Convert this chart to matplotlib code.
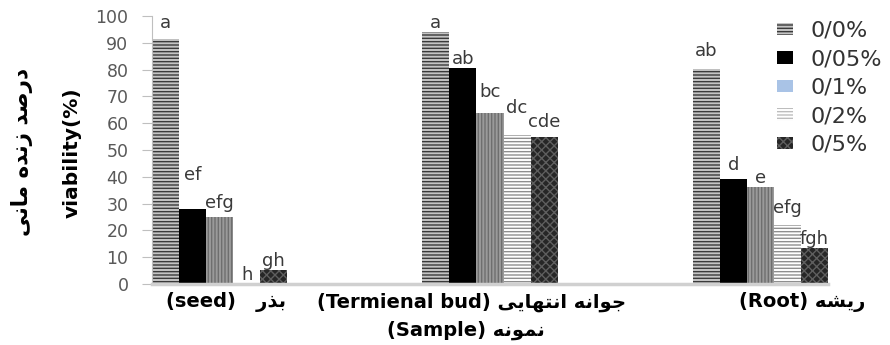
import matplotlib
matplotlib.use("Agg")
import matplotlib.pyplot as plt
import matplotlib.transforms as mtransforms
import numpy as np

# sample groups (english + persian)
samples = ["(seed)", "(Termienal bud)", "(Root)"]
samples_fa = ["بذر", "جوانه انتهایی", "ریشه"]
concentrations = ["0/0%", "0/05%", "0/1%", "0/2%", "0/5%"]

# viability (%) per concentration, order: seed, terminal bud, root
viab_0 = [91.5, 94.2, 80.1]
viab_005 = [28.0, 80.5, 39.2]
viab_01 = [25.0, 63.7, 36.1]
viab_02 = [0.0, 55.6, 22.0]
viab_05 = [5.2, 54.7, 13.5]

# hidden standard errors (labels sit above them)
se_0 = [2.5, 0.0, 3.3]
se_005 = [9.3, 0.0, 1.8]
se_01 = [1.9, 4.7, 0.0]
se_02 = [0.0, 6.6, 3.0]
se_05 = [0.0, 2.5, 0.0]

# duncan letters
let_0 = ["a", "a", "ab"]
let_005 = ["ef", "ab", "d"]
let_01 = ["efg", "bc", "e"]
let_02 = ["h", "dc", "efg"]
let_05 = ["gh", "cde", "fgh"]

y_fa = "درصد زنده مانی"
y_en = "viability(%)"
x_fa = "نمونه"
x_en = "(Sample)"

# minimal persian shaping (matplotlib does no joining / bidi)
FORMS = {
    'ب': (0xFE8F, 0xFE90, 0xFE91, 0xFE92),
    'ت': (0xFE95, 0xFE96, 0xFE97, 0xFE98),
    'ج': (0xFE9D, 0xFE9E, 0xFE9F, 0xFEA0),
    'ش': (0xFEB5, 0xFEB6, 0xFEB7, 0xFEB8),
    'ص': (0xFEB9, 0xFEBA, 0xFEBB, 0xFEBC),
    'م': (0xFEE1, 0xFEE2, 0xFEE3, 0xFEE4),
    'ن': (0xFEE5, 0xFEE6, 0xFEE7, 0xFEE8),
    'ه': (0xFEE9, 0xFEEA, 0xFEEB, 0xFEEC),
    'ی': (0xFBFC, 0xFBFD, 0xFBFE, 0xFBFF),
    'ا': (0xFE8D, 0xFE8E),
    'د': (0xFEA9, 0xFEAA),
    'ذ': (0xFEAB, 0xFEAC),
    'ر': (0xFEAD, 0xFEAE),
    'ز': (0xFEAF, 0xFEB0),
    'و': (0xFEED, 0xFEEE),
}


def fa(text):
    out = []
    for i, ch in enumerate(text):
        f = FORMS.get(ch)
        if f is None:
            out.append(ch)
            continue
        prev = FORMS.get(text[i - 1]) if i > 0 else None
        nxt = FORMS.get(text[i + 1]) if i + 1 < len(text) else None
        jp = prev is not None and len(prev) == 4
        jn = len(f) == 4 and nxt is not None
        if jp and jn:
            k = 3
        elif jp:
            k = 1
        elif jn:
            k = 2
        else:
            k = 0
        out.append(chr(f[k]))
    return "".join(out)[::-1]


plt.rcParams['font.family'] = ['DejaVu Sans']
plt.rcParams['hatch.linewidth'] = 1.0

fig = plt.figure(figsize=(8.9, 3.45), dpi=100)
ax = fig.add_axes([152 / 890, 1 - 284 / 345, 676 / 890, 268 / 345])

values = [viab_0, viab_005, viab_01, viab_02, viab_05]
errs = [se_0, se_005, se_01, se_02, se_05]
letters = [let_0, let_005, let_01, let_02, let_05]

styles = [
    dict(color='#c4c4c4', edgecolor='#3a3a3a', hatch='-----'),
    dict(color='#000000', edgecolor='#000000', hatch=None),
    dict(color='#9a9a9a', edgecolor='#6e6e6e', hatch='|||||'),
    dict(color='#ffffff', edgecolor='#8e8e8e', hatch='-----'),
    dict(color='#262626', edgecolor='#5e5e5e', hatch='xxxx'),
]

x = np.arange(len(samples))
w = 0.1
bars = []
for i in range(5):
    pos = x + (i - 2) * w
    b = ax.bar(pos, values[i], w, label=concentrations[i], linewidth=0,
               **styles[i])
    bars.append(b)
    for xp, v, e, t in zip(pos, values[i], errs[i], letters[i]):
        ax.text(xp, v + e + 1.5, t, ha='center', va='baseline',
                fontsize=13, color='#3a3a3a')

ax.set_xlim(-0.25, 2.25)
ax.set_ylim(0, 100)
ax.set_yticks(range(0, 101, 10))
ax.tick_params(axis='y', length=7, color='#bfbfbf', pad=10,
               labelsize=12.5, labelcolor='#595959')
ax.tick_params(axis='x', length=0, pad=6)

ax.set_xticks(x)
seps = ["   ", " ", " "]
ax.set_xticklabels([en + s + fa(p) for en, s, p in zip(samples, seps, samples_fa)],
                   fontsize=14, fontweight='bold')
shift = [6, -19, 42]
for lbl, dx in zip(ax.get_xticklabels(), shift):
    lbl.set_transform(lbl.get_transform() +
                      mtransforms.ScaledTranslation(dx / 100, 0, fig.dpi_scale_trans))

for s in ['top', 'right']:
    ax.spines[s].set_visible(False)
ax.spines['left'].set_color('#bfbfbf')
ax.spines['left'].set_linewidth(0.8)
ax.spines['bottom'].set_color('#d0d0d0')
ax.spines['bottom'].set_linewidth(2.5)

ax.set_xlabel(x_en + " " + fa(x_fa), fontsize=14, fontweight='bold', labelpad=4)
ax.xaxis.set_label_coords(0.464, -0.135)

fig.text(72 / 890, 1 - 153 / 345, y_en, rotation=90, ha='center', va='center',
         fontsize=14.5, fontweight='bold')
fig.text(22 / 890, 1 - 152 / 345, fa(y_fa), rotation=90, ha='center', va='center',
         fontsize=15.5, fontweight='bold')

leg = ax.legend(loc='upper left', bbox_to_anchor=(777 / 890, 1 - 21 / 345),
                bbox_transform=fig.transFigure, frameon=False, fontsize=16,
                labelspacing=0.38, handlelength=0.7, handleheight=0.5,
                handletextpad=0.8, borderpad=0, borderaxespad=0)
for t in leg.get_texts():
    t.set_color('#333333')
lp = leg.get_patches()
lp[2].set_facecolor('#a9c3e6')
lp[2].set_hatch(None)
lp[3].set_edgecolor('#bdbdbd')

fig.savefig("out.png", dpi=100)
